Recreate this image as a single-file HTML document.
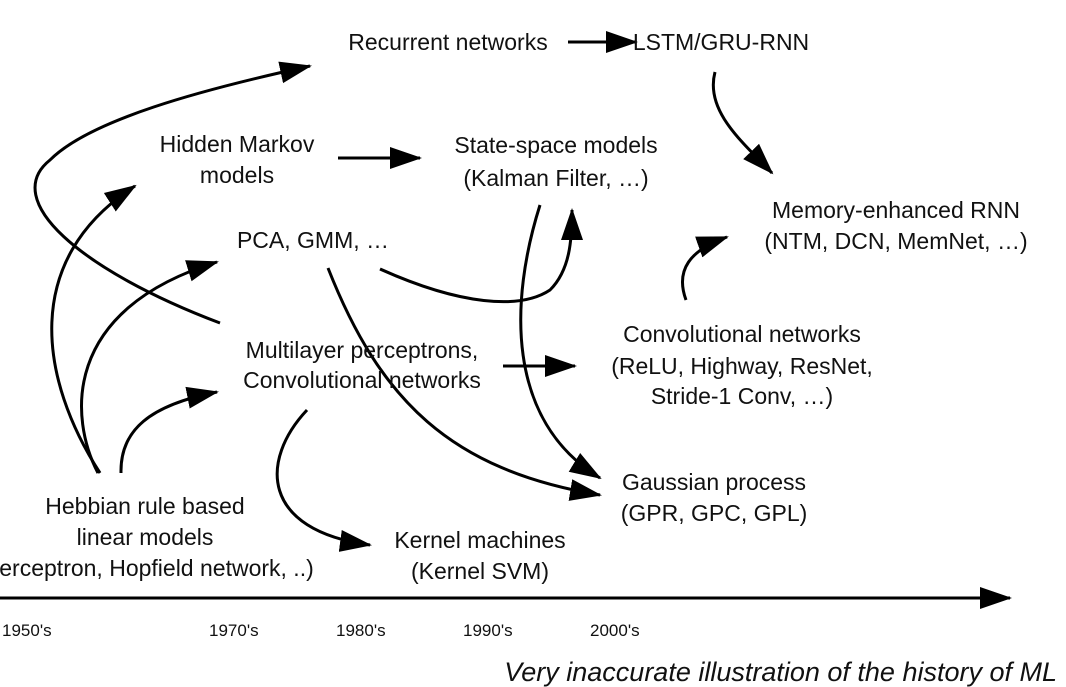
<!DOCTYPE html>
<html><head><meta charset="utf-8"><style>
html,body{margin:0;padding:0;background:#fff;}
svg{display:block;}
text{font-family:"Liberation Sans",Arial,sans-serif;fill:#111;}
.t{font-size:23px;text-anchor:middle;}
.y{font-size:17px;}
</style></head><body>
<svg width="1066" height="687" viewBox="0 0 1066 687" xmlns="http://www.w3.org/2000/svg">
<defs>
<marker id="a" markerWidth="34" markerHeight="26" refX="30" refY="13" orient="auto" markerUnits="userSpaceOnUse">
<path d="M0,2 L32,13 L0,24 Z" fill="#000"/>
</marker>
</defs>
<g fill="none" stroke="#000" stroke-width="3" marker-end="url(#a)">
<path d="M568,42 L636,42"/>
<path d="M338,158 L420,158"/>
<path d="M715,72 C705,110 740,140 772,173"/>
<path d="M220,323 C80,270 0,200 50,160 C90,120 200,90 310,66"/>
<path d="M100,473 C40,380 20,260 135,186"/>
<path d="M98,473 C70,420 60,310 217,262"/>
<path d="M121,473 C120,430 150,405 217,392"/>
<path d="M307,410 C260,460 260,530 370,545"/>
<path d="M328,268 C380,400 450,470 600,495"/>
<path d="M540,205 C510,300 505,420 600,478"/>
<path d="M380,269 C460,305 520,310 550,290 C570,270 572,240 572,210"/>
<path d="M503,366 L575,366"/>
<path d="M686,300 C675,270 690,250 727,237"/>
<path d="M0,598 L1010,598"/>
</g>
<text class="t" x="448" y="50">Recurrent networks</text>
<text class="t" x="721" y="50">LSTM/GRU-RNN</text>
<text class="t" x="237" y="152">Hidden Markov</text>
<text class="t" x="237" y="183">models</text>
<text class="t" x="556" y="153">State-space models</text>
<text class="t" x="556" y="186">(Kalman Filter, …)</text>
<text class="t" x="896" y="218">Memory-enhanced RNN</text>
<text class="t" x="896" y="249">(NTM, DCN, MemNet, …)</text>
<text class="t" x="313" y="248">PCA, GMM, …</text>
<text class="t" x="362" y="358">Multilayer perceptrons,</text>
<text class="t" x="362" y="388">Convolutional networks</text>
<text class="t" x="742" y="342">Convolutional networks</text>
<text class="t" x="742" y="374">(ReLU, Highway, ResNet,</text>
<text class="t" x="742" y="404">Stride-1 Conv, …)</text>
<text class="t" x="714" y="490">Gaussian process</text>
<text class="t" x="714" y="521">(GPR, GPC, GPL)</text>
<text class="t" x="145" y="514">Hebbian rule based</text>
<text class="t" x="145" y="545">linear models</text>
<text class="t" x="145" y="576">(Perceptron, Hopfield network, ..)</text>
<text class="t" x="480" y="548">Kernel machines</text>
<text class="t" x="480" y="579">(Kernel SVM)</text>
<text class="y" x="2" y="636">1950's</text>
<text class="y" x="209" y="636">1970's</text>
<text class="y" x="336" y="636">1980's</text>
<text class="y" x="463" y="636">1990's</text>
<text class="y" x="590" y="636">2000's</text>
<text x="1057" y="681" style="font-size:27px;font-style:italic;text-anchor:end;">Very inaccurate illustration of the history of ML</text>
</svg>
</body></html>
